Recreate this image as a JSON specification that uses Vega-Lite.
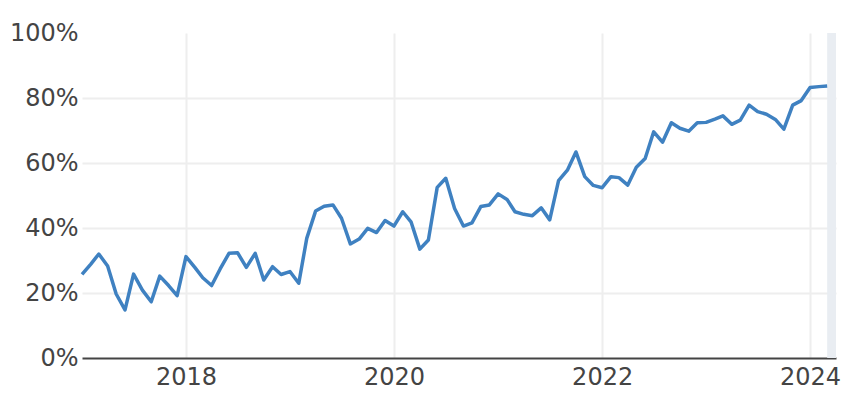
{
  "$schema": "https://vega.github.io/schema/vega-lite/v6.json",
  "width": 754,
  "height": 325,
  "autosize": {"type": "none"},
  "padding": {"left": 82, "top": 33, "right": 22, "bottom": 42},
  "background": "white",
  "config": {
    "view": {"stroke": null},
    "font": "DejaVu Sans",
    "axis": {
      "labelFont": "DejaVu Sans",
      "labelFontSize": 24,
      "labelColor": "#444444",
      "ticks": false,
      "gridColor": "#eeeeee",
      "gridWidth": 2,
      "title": null
    }
  },
  "layer": [
    {
      "data": {"values": [{"start": "2024-03-01", "end": "2024-04-01"}]},
      "mark": {"type": "rect", "color": "#e9edf2"},
      "encoding": {
        "x": {"field": "start", "type": "temporal", "scale": {"type": "utc"}},
        "x2": {"field": "end"}
      }
    },
    {
      "data": {
        "values": [
          {"date": "2017-01-01", "share": 25.7},
          {"date": "2017-02-01", "share": 28.9},
          {"date": "2017-03-01", "share": 32.0},
          {"date": "2017-04-01", "share": 28.3},
          {"date": "2017-05-01", "share": 19.7},
          {"date": "2017-06-01", "share": 14.8},
          {"date": "2017-07-01", "share": 25.8},
          {"date": "2017-08-01", "share": 20.9},
          {"date": "2017-09-01", "share": 17.3},
          {"date": "2017-10-01", "share": 25.2},
          {"date": "2017-11-01", "share": 22.3},
          {"date": "2017-12-01", "share": 19.2},
          {"date": "2018-01-01", "share": 31.2},
          {"date": "2018-02-01", "share": 27.9},
          {"date": "2018-03-01", "share": 24.7},
          {"date": "2018-04-01", "share": 22.3},
          {"date": "2018-05-01", "share": 27.4},
          {"date": "2018-06-01", "share": 32.2},
          {"date": "2018-07-01", "share": 32.4},
          {"date": "2018-08-01", "share": 27.9},
          {"date": "2018-09-01", "share": 32.2},
          {"date": "2018-10-01", "share": 24.0},
          {"date": "2018-11-01", "share": 28.1},
          {"date": "2018-12-01", "share": 25.7},
          {"date": "2019-01-01", "share": 26.6},
          {"date": "2019-02-01", "share": 23.0},
          {"date": "2019-03-01", "share": 36.8},
          {"date": "2019-04-01", "share": 45.2},
          {"date": "2019-05-01", "share": 46.7},
          {"date": "2019-06-01", "share": 47.1},
          {"date": "2019-07-01", "share": 43.0},
          {"date": "2019-08-01", "share": 35.1},
          {"date": "2019-09-01", "share": 36.6},
          {"date": "2019-10-01", "share": 39.9},
          {"date": "2019-11-01", "share": 38.6},
          {"date": "2019-12-01", "share": 42.3},
          {"date": "2020-01-01", "share": 40.6},
          {"date": "2020-02-01", "share": 45.0},
          {"date": "2020-03-01", "share": 41.9},
          {"date": "2020-04-01", "share": 33.5},
          {"date": "2020-05-01", "share": 36.3},
          {"date": "2020-06-01", "share": 52.5},
          {"date": "2020-07-01", "share": 55.3},
          {"date": "2020-08-01", "share": 46.0},
          {"date": "2020-09-01", "share": 40.6},
          {"date": "2020-10-01", "share": 41.6},
          {"date": "2020-11-01", "share": 46.6},
          {"date": "2020-12-01", "share": 47.1},
          {"date": "2021-01-01", "share": 50.5},
          {"date": "2021-02-01", "share": 48.8},
          {"date": "2021-03-01", "share": 45.0},
          {"date": "2021-04-01", "share": 44.2},
          {"date": "2021-05-01", "share": 43.8},
          {"date": "2021-06-01", "share": 46.2},
          {"date": "2021-07-01", "share": 42.5},
          {"date": "2021-08-01", "share": 54.6},
          {"date": "2021-09-01", "share": 57.8},
          {"date": "2021-10-01", "share": 63.4},
          {"date": "2021-11-01", "share": 55.8},
          {"date": "2021-12-01", "share": 53.1},
          {"date": "2022-01-01", "share": 52.4},
          {"date": "2022-02-01", "share": 55.8},
          {"date": "2022-03-01", "share": 55.5},
          {"date": "2022-04-01", "share": 53.2},
          {"date": "2022-05-01", "share": 58.7},
          {"date": "2022-06-01", "share": 61.4},
          {"date": "2022-07-01", "share": 69.6},
          {"date": "2022-08-01", "share": 66.4},
          {"date": "2022-09-01", "share": 72.4},
          {"date": "2022-10-01", "share": 70.7},
          {"date": "2022-11-01", "share": 69.8},
          {"date": "2022-12-01", "share": 72.4},
          {"date": "2023-01-01", "share": 72.5},
          {"date": "2023-02-01", "share": 73.5},
          {"date": "2023-03-01", "share": 74.5},
          {"date": "2023-04-01", "share": 71.9},
          {"date": "2023-05-01", "share": 73.2},
          {"date": "2023-06-01", "share": 77.8},
          {"date": "2023-07-01", "share": 75.8},
          {"date": "2023-08-01", "share": 75.0},
          {"date": "2023-09-01", "share": 73.4},
          {"date": "2023-10-01", "share": 70.4},
          {"date": "2023-11-01", "share": 77.8},
          {"date": "2023-12-01", "share": 79.2},
          {"date": "2024-01-01", "share": 83.2},
          {"date": "2024-02-01", "share": 83.5},
          {"date": "2024-03-01", "share": 83.7}
        ]
      },
      "mark": {"type": "line", "color": "#3f81c1", "strokeWidth": 3.5, "strokeJoin": "round"},
      "encoding": {
        "x": {
          "field": "date",
          "type": "temporal",
          "scale": {
            "type": "utc",
            "domain": [
              {"year": 2017, "month": 1, "date": 1, "utc": true},
              {"year": 2024, "month": 4, "date": 1, "utc": true}
            ]
          },
          "axis": {
            "values": [
              {"year": 2018, "month": 1, "date": 1, "utc": true},
              {"year": 2020, "month": 1, "date": 1, "utc": true},
              {"year": 2022, "month": 1, "date": 1, "utc": true},
              {"year": 2024, "month": 1, "date": 1, "utc": true}
            ],
            "format": "%Y",
            "domain": true,
            "domainColor": "#444444",
            "domainWidth": 2,
            "labelPadding": 7,
            "labelBaseline": "top"
          }
        },
        "y": {
          "field": "share",
          "type": "quantitative",
          "scale": {"domain": [0, 100], "nice": false, "zero": true},
          "axis": {
            "values": [0, 20, 40, 60, 80, 100],
            "labelExpr": "datum.value + '%'",
            "domain": false,
            "labelPadding": 4,
            "gridOpacity": {"condition": {"test": "datum.value == 100 || datum.value == 0", "value": 0}, "value": 1}
          }
        }
      }
    }
  ]
}
